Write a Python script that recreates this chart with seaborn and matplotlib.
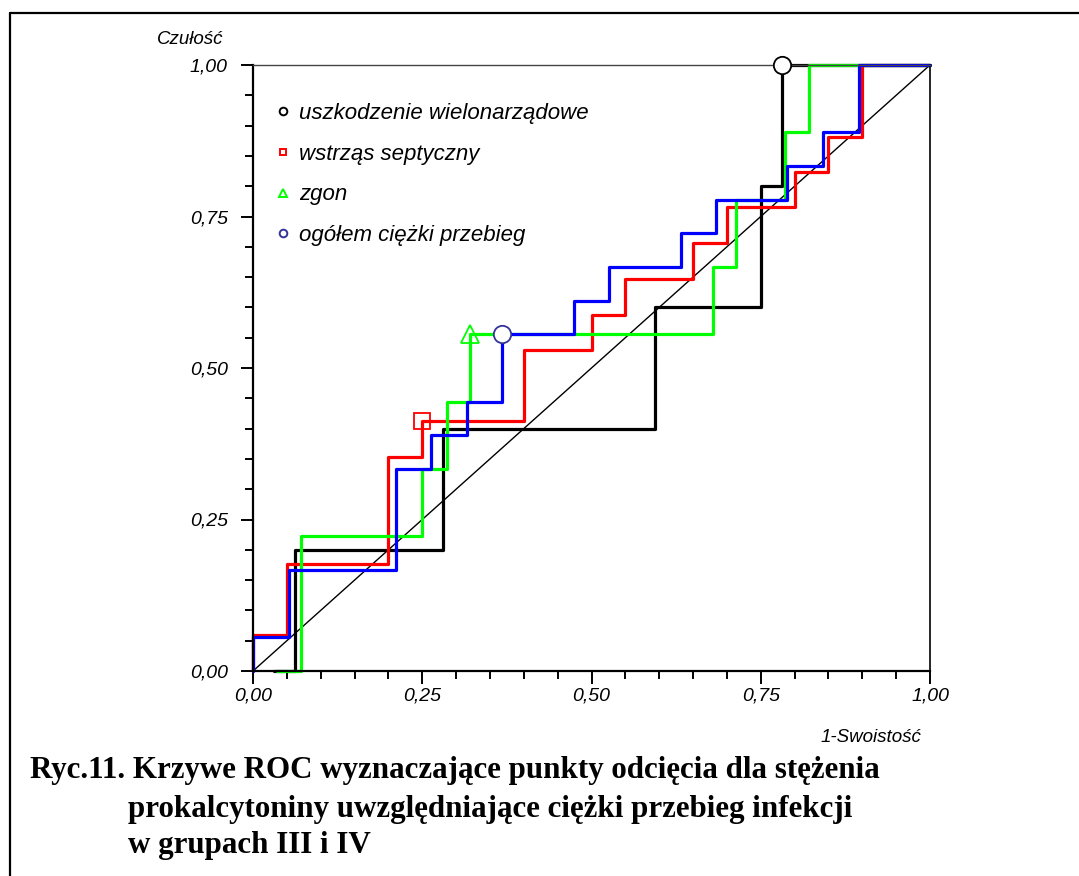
import numpy as np
import pandas as pd
import seaborn as sns
import matplotlib.pyplot as plt
from matplotlib.lines import Line2D

# ROC step curves, corner points (1-specificity, sensitivity)
mof_x = [0.031, 0.0625, 0.281, 0.594, 0.75, 0.781, 1.0]
mof_y = [0.0, 0.2, 0.4, 0.6, 0.8, 1.0, 1.0]

shock_x = [0.0, 0.0, 0.05, 0.2, 0.25, 0.4, 0.5, 0.55, 0.65, 0.7, 0.8, 0.85, 0.9, 1.0]
shock_y = [0.0, 0.059, 0.176, 0.353, 0.412, 0.529, 0.588, 0.647, 0.706, 0.765, 0.824, 0.882, 1.0, 1.0]

death_x = [0.036, 0.071, 0.25, 0.286, 0.321, 0.679, 0.714, 0.786, 0.821, 1.0]
death_y = [0.0, 0.222, 0.333, 0.444, 0.556, 0.667, 0.778, 0.889, 1.0, 1.0]

severe_x = [0.0, 0.0, 0.053, 0.211, 0.263, 0.316, 0.368, 0.474, 0.526, 0.632, 0.684, 0.789, 0.842, 0.895, 1.0]
severe_y = [0.0, 0.056, 0.167, 0.333, 0.389, 0.444, 0.556, 0.611, 0.667, 0.722, 0.778, 0.833, 0.889, 1.0, 1.0]

# cut-off points
cut_x = [0.781, 0.25, 0.321, 0.368]
cut_y = [1.0, 0.412, 0.556, 0.556]

groups = ["uszkodzenie wielonarządowe", "wstrząs septyczny", "zgon", "ogółem ciężki przebieg"]
colors = ["#000000", "#FF0000", "#00FF00", "#0000FF"]
edge_colors = ["#000000", "#FF0000", "#00FF00", "#333399"]
markers = ["o", "s", "^", "o"]

tick_values = [0.0, 0.25, 0.5, 0.75, 1.0]
tick_labels = ["0,00", "0,25", "0,50", "0,75", "1,00"]

df = pd.concat([
    pd.DataFrame({"x": mof_x, "y": mof_y, "grupa": groups[0]}),
    pd.DataFrame({"x": shock_x, "y": shock_y, "grupa": groups[1]}),
    pd.DataFrame({"x": death_x, "y": death_y, "grupa": groups[2]}),
    pd.DataFrame({"x": severe_x, "y": severe_y, "grupa": groups[3]}),
], ignore_index=True)

sns.set_style("white")
plt.rcParams["font.family"] = ["Liberation Sans", "DejaVu Sans"]
plt.rcParams["text.color"] = "black"
plt.rcParams["xtick.color"] = "black"
plt.rcParams["ytick.color"] = "black"

fig = plt.figure(figsize=(10.79, 8.76), dpi=100)
ax = fig.add_axes([253 / 1079, 1 - 671 / 876, 677 / 1079, 606 / 876])

# diagonal reference line
ax.plot([0, 1], [0, 1], color="black", lw=1.0, zorder=1)

sns.lineplot(
    data=df, x="x", y="y", hue="grupa", hue_order=groups,
    palette=colors, sort=False, estimator=None,
    drawstyle="steps-post", lw=2.3, legend=False, ax=ax,
    clip_on=False, zorder=2
)

for cx, cy, m, ec in zip(cut_x, cut_y, markers, edge_colors):
    face = "white" if m == "o" else "none"
    ms = 12.5 if m == "o" else (12 if m == "s" else 13)
    ax.plot(cx, cy, marker=m, ms=ms, mfc=face, mec=ec, mew=1.3,
            clip_on=False, zorder=5)

ax.set_xlim(0, 1)
ax.set_ylim(0, 1)
ax.set_xticks(tick_values)
ax.set_xticklabels(tick_labels, fontstyle="italic", fontsize=14)
ax.set_yticks(tick_values)
ax.set_yticklabels(tick_labels, fontstyle="italic", fontsize=14)
ax.set_xticks(np.arange(0, 1.001, 0.05), minor=True)
ax.set_yticks(np.arange(0, 1.001, 0.05), minor=True)
ax.tick_params(which="major", direction="out", length=9, width=1.4,
               bottom=True, left=True, color="black", labelcolor="black")
ax.tick_params(which="minor", direction="out", length=5.5, width=1.4,
               bottom=True, left=True, color="black")
ax.tick_params(axis="y", which="major", pad=9)
ax.tick_params(axis="x", which="major", pad=3)
ax.set_xlabel("")
ax.set_ylabel("")

for side in ["left", "bottom"]:
    ax.spines[side].set_linewidth(1.6)
    ax.spines[side].set_color("black")
ax.spines["right"].set_linewidth(1.2)
ax.spines["right"].set_color("black")
ax.spines["top"].set_linewidth(1.0)
ax.spines["top"].set_color("#444444")

handles = [Line2D([], [], ls="none", marker=m, ms=5.5 if m != "s" else 5,
                  mfc="none", mec=ec, mew=1.4)
           for m, ec in zip(markers, edge_colors)]
leg = ax.legend(handles, groups, loc="upper left", bbox_to_anchor=(0.035, 0.937),
                frameon=False, prop={"style": "italic", "size": 16},
                handlelength=0.6, handletextpad=0.4, labelspacing=0.88,
                borderpad=0, borderaxespad=0)
for t in leg.get_texts():
    t.set_color("black")

fig.text(223 / 1079, 1 - 39 / 876, "Czułość", ha="right", va="center",
         fontsize=13.5, fontstyle="italic")
fig.text(921 / 1079, 1 - 737 / 876, "1-Swoistość", ha="right", va="center",
         fontsize=13.5, fontstyle="italic")

caption = [
    ("Ryc.11. Krzywe ROC wyznaczające punkty odcięcia dla stężenia", 30, 778),
    ("prokalcytoniny uwzględniające ciężki przebieg infekcji", 128, 817),
    ("w grupach III i IV", 128, 853),
]
for txt, px, py in caption:
    fig.text(px / 1079, 1 - py / 876, txt, ha="left", va="baseline",
             fontsize=22.3, fontweight="bold", family="Liberation Serif")

# page frame lines (top and left)
fig.add_artist(Line2D([10 / 1079, 1], [1 - 13 / 876, 1 - 13 / 876],
                      color="black", lw=1.6))
fig.add_artist(Line2D([10 / 1079, 10 / 1079], [0, 1 - 13 / 876],
                      color="black", lw=1.6))

fig.savefig("out.png", dpi=100)
